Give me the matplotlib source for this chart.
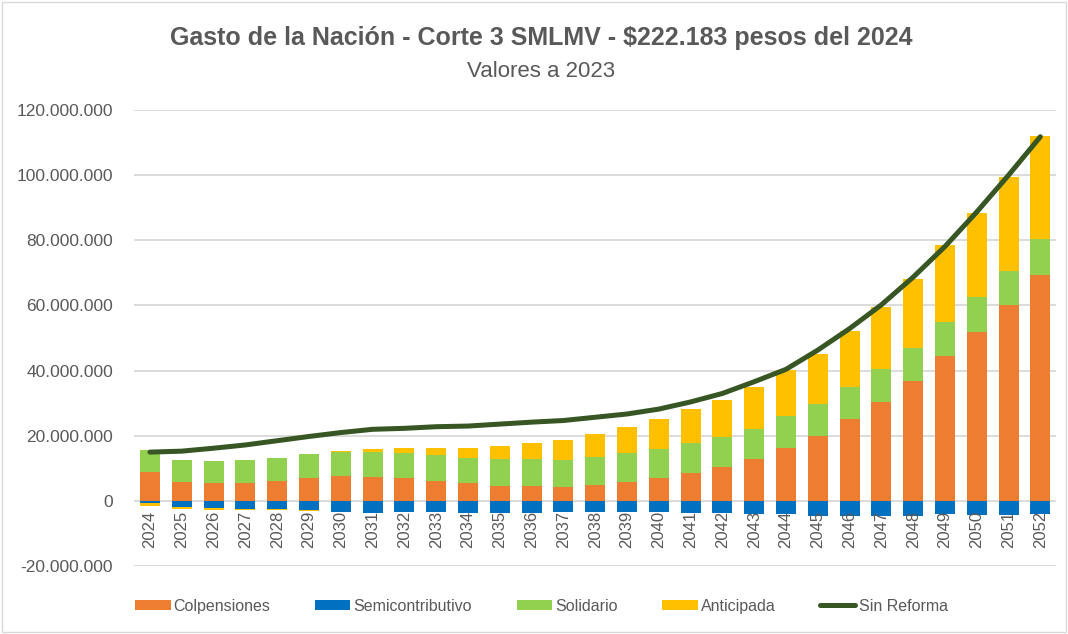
import numpy as np
import matplotlib
matplotlib.use("Agg")
import matplotlib.pyplot as plt
from matplotlib.ticker import FuncFormatter
from matplotlib.patches import Rectangle

plt.rcParams["font.family"] = ["Liberation Sans", "DejaVu Sans"]

years = list(range(2024, 2053))

# millones de pesos
colpensiones = [9.0, 5.9, 5.6, 5.6, 6.2, 7.2, 7.8, 7.4, 7.2, 6.2, 5.4, 4.7, 4.7, 4.4, 5.0,
                5.9, 7.2, 8.7, 10.5, 13.0, 16.4, 20.0, 25.1, 30.5, 36.8, 44.5, 51.9, 60.1, 69.5]
semicontributivo = [-0.7, -1.7, -2.2, -2.5, -2.5, -2.8, -3.5, -3.8, -3.5, -3.5, -3.6, -3.6, -3.6, -3.3, -3.3,
                    -3.3, -3.3, -3.6, -3.6, -3.9, -4.1, -4.6, -4.6, -4.6, -4.6, -4.1, -4.3, -4.3, -4.1]
solidario = [6.6, 6.7, 6.7, 7.0, 7.0, 7.2, 7.3, 7.7, 7.5, 7.9, 7.9, 8.2, 8.2, 8.3, 8.5,
             8.8, 8.8, 9.1, 9.1, 9.1, 9.8, 9.9, 10.0, 10.0, 10.2, 10.4, 10.6, 10.6, 10.9]
anticipada = [-0.8, -0.8, -0.5, -0.4, -0.4, -0.2, 0.3, 0.9, 1.7, 2.3, 3.1, 4.0, 4.9, 6.1, 7.1,
              8.0, 9.2, 10.4, 11.4, 12.9, 14.0, 15.1, 17.0, 19.1, 21.2, 23.7, 25.9, 28.7, 31.6]
sin_reforma = [15.0, 15.3, 16.2, 17.2, 18.5, 19.8, 21.0, 22.0, 22.3, 22.8, 23.0, 23.6, 24.2, 24.7, 25.7,
               26.7, 28.2, 30.4, 33.0, 36.6, 40.4, 46.3, 52.9, 60.2, 68.7, 78.1, 88.7, 100.0, 111.8]

series = [
    ("Colpensiones", colpensiones, "#ED7D31"),
    ("Semicontributivo", semicontributivo, "#0070C0"),
    ("Solidario", solidario, "#92D050"),
    ("Anticipada", anticipada, "#FFC000"),
]

fig = plt.figure(figsize=(10.68, 6.34), dpi=100)
ax = fig.add_axes([0.1255, 0.107, 0.8635, 0.7195])

x = np.arange(len(years))
pos_bottom = np.zeros(len(years))
neg_bottom = np.zeros(len(years))
for name, vals, color in series:
    v = np.array(vals) * 1e6
    bottom = np.where(v >= 0, pos_bottom, neg_bottom)
    ax.bar(x, v, width=0.63, bottom=bottom, color=color, label=name, zorder=2)
    pos_bottom += np.where(v >= 0, v, 0)
    neg_bottom += np.where(v < 0, v, 0)

ax.plot(x, np.array(sin_reforma) * 1e6, color="#375623", lw=3.6, label="Sin Reforma",
        zorder=3, solid_capstyle="round")

ax.set_xlim(-0.5, len(years) - 0.5)
ax.set_ylim(-20e6, 120e6)
ax.set_yticks(np.arange(-20e6, 121e6, 20e6))
ax.yaxis.set_major_formatter(FuncFormatter(lambda v, p: f"{int(v):,}".replace(",", ".")))
ax.grid(axis="y", color="#d9d9d9", lw=1.3, zorder=0)
ax.set_axisbelow(True)
for s in ax.spines.values():
    s.set_visible(False)
ax.tick_params(axis="y", length=0, labelsize=12.5, labelcolor="#595959", pad=15)
ax.set_xticks([])

for i, yr in enumerate(years):
    ax.annotate(str(yr), xy=(i, 0), xytext=(0, -7), textcoords="offset points",
                rotation=90, ha="center", va="top", fontsize=12, color="#595959", zorder=4)

fig.text(0.507, 0.94, r"Gasto de la Nación - Corte 3 SMLMV - \$222.183 pesos del 2024",
         ha="center", va="center", fontsize=18, fontweight="bold", color="#595959")
fig.text(0.507, 0.888, "Valores a 2023", ha="center", va="center", fontsize=16, color="#595959")

handles, labels = ax.get_legend_handles_labels()
order = [1, 2, 3, 4, 0]
fig.legend([handles[i] for i in order], [labels[i] for i in order],
           loc="center", bbox_to_anchor=(0.507, 0.044), ncol=5, frameon=False, fontsize=11.5,
           handlelength=2.2, handleheight=0.6, columnspacing=2.8, handletextpad=0.2,
           labelcolor="#595959")

fig.patches.append(Rectangle((0.002, 0.003), 0.996, 0.994, transform=fig.transFigure,
                             fill=False, edgecolor="#d9d9d9", lw=1))

fig.savefig("out.png", dpi=100)
